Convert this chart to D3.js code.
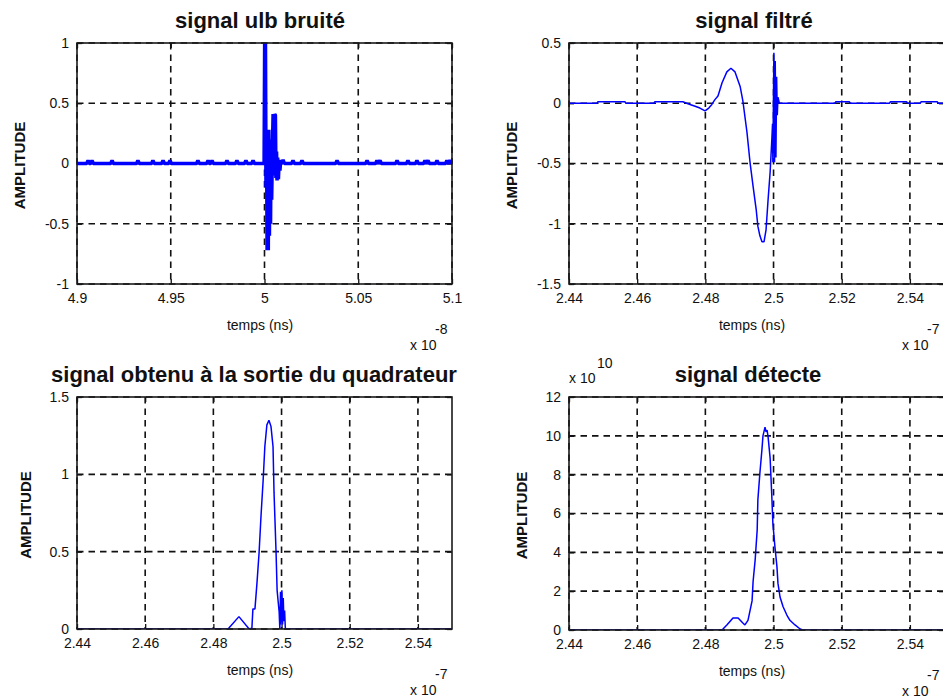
<!DOCTYPE html>
<html>
<head>
<meta charset="utf-8">
<script src="https://cdn.jsdelivr.net/npm/d3@7"></script>
<style>
  html, body { margin: 0; padding: 0; background: #fff; }
  svg { display: block; }
  text { font-family: "Liberation Sans", Arial, sans-serif; fill: #111; }
</style>
</head>
<body>
<svg id="fig" width="943" height="700"></svg>
<script>
// ---- Signals (time in units of the axis exponent, amplitude) ----

// Noisy UWB pulse, time x 1e-8 s
const noisySignal = [
  [4.9000, 0], [4.9052, 0], [4.9059, 0.025], [4.9066, 0], [4.9073, 0], [4.9080, 0.025], [4.9087, 0],
  [4.9180, 0], [4.9187, 0.025], [4.9194, 0],
  [4.9318, 0], [4.9325, 0.025], [4.9332, 0],
  [4.9398, 0], [4.9405, 0.025], [4.9412, 0],
  [4.9452, 0], [4.9459, 0.025], [4.9466, 0],
  [4.9489, 0], [4.9496, 0.025], [4.9503, 0],
  [4.9638, 0], [4.9645, 0.025], [4.9652, 0],
  [4.9692, 0], [4.9699, 0.025], [4.9706, 0], [4.9713, 0], [4.9720, 0.025], [4.9727, 0],
  [4.9793, 0], [4.9800, 0.025], [4.9807, 0],
  [4.9846, 0], [4.9853, 0.025], [4.9860, 0],
  [4.9894, 0], [4.9901, 0.025], [4.9908, 0],
  [4.9932, 0], [4.9939, 0.025], [4.9946, 0],
  [4.9998, 0], [5.0001, 1.0], [5.0005, 1.0], [5.0008, -0.2], [5.0011, 0.27], [5.0014, -0.72],
  [5.0017, 0.2], [5.0020, -0.72], [5.0023, 0.28], [5.0026, -0.6], [5.0029, 0.15], [5.0032, -0.5],
  [5.0035, 0.2], [5.0038, -0.3], [5.0042, 0.1], [5.0046, 0.41], [5.0050, -0.1], [5.0054, 0.41],
  [5.0058, 0.4], [5.0061, -0.12], [5.0064, 0.1], [5.0067, -0.14], [5.0070, 0.05], [5.0074, -0.13],
  [5.0078, 0.03], [5.0082, -0.06], [5.0086, 0.02], [5.0090, 0],
  [5.0092, 0], [5.0099, 0.03], [5.0106, 0],
  [5.0145, 0], [5.0152, 0.025], [5.0159, 0],
  [5.0193, 0], [5.0200, 0.025], [5.0207, 0],
  [5.0380, 0], [5.0387, 0.025], [5.0394, 0],
  [5.0540, 0], [5.0547, 0.025], [5.0554, 0],
  [5.0593, 0], [5.0600, 0.025], [5.0607, 0], [5.0616, 0.025], [5.0623, 0],
  [5.0700, 0], [5.0707, 0.025], [5.0714, 0],
  [5.0758, 0], [5.0765, 0.025], [5.0772, 0],
  [5.0806, 0], [5.0813, 0.025], [5.0820, 0],
  [5.0849, 0], [5.0856, 0.025], [5.0863, 0], [5.0872, 0.025], [5.0879, 0],
  [5.0913, 0], [5.0920, 0.025], [5.0927, 0],
  [5.0966, 0], [5.0973, 0.025], [5.0980, 0], [5.0989, 0.025], [5.1000, 0]
];

// Filtered signal, time x 1e-7 s
const filteredSignal = [
  [2.4400, 0], [2.4482, 0], [2.4485, 0.012], [2.4564, 0.012], [2.4567, 0],
  [2.4649, 0], [2.4652, 0.012], [2.4734, 0.012], [2.4745, 0], [2.4755, -0.01],
  [2.4770, -0.025], [2.4784, -0.04], [2.4799, -0.064], [2.4810, -0.04], [2.4819, -0.01],
  [2.4828, 0.03], [2.4837, 0.06], [2.4849, 0.17], [2.4863, 0.26], [2.4875, 0.29],
  [2.4887, 0.26], [2.4902, 0.14], [2.4910, 0.02], [2.4922, -0.24], [2.4931, -0.49],
  [2.4940, -0.69], [2.4949, -0.88], [2.4954, -1.02], [2.4960, -1.10], [2.4966, -1.15],
  [2.4972, -1.15], [2.4978, -1.05], [2.4984, -0.80], [2.4990, -0.57], [2.4995, -0.30],
  [2.4997, -0.17], [2.4998, -0.49], [2.4999, -0.17], [2.5001, 0.42], [2.5003, -0.49],
  [2.5005, 0.35], [2.5007, -0.45], [2.5009, 0.22], [2.5011, -0.10], [2.5013, 0.05],
  [2.5017, 0], [2.5180, 0], [2.5183, 0.012], [2.5222, 0.012], [2.5225, 0],
  [2.5340, 0], [2.5343, 0.012], [2.5390, 0.012], [2.5393, 0],
  [2.5430, 0], [2.5433, 0.012], [2.5480, 0.012], [2.5483, 0], [2.5500, 0]
];

// Squarer output, time x 1e-7 s
const squaredSignal = [
  [2.4400, 0], [2.4843, 0], [2.4875, 0.08], [2.4905, 0], [2.4913, 0.005],
  [2.4916, 0.13], [2.4922, 0.13], [2.4928, 0.30], [2.4934, 0.49], [2.4940, 0.74],
  [2.4946, 0.96], [2.4951, 1.18], [2.4957, 1.32], [2.4963, 1.35], [2.4969, 1.31],
  [2.4975, 1.18], [2.4978, 0.88], [2.4984, 0.49], [2.4987, 0.25], [2.4993, 0.11],
  [2.4995, 0], [2.4997, 0.24], [2.4998, 0.03], [2.5000, 0.18], [2.5001, 0.25],
  [2.5003, 0.03], [2.5005, 0.20], [2.5007, 0.05], [2.5009, 0.12], [2.5011, 0.01],
  [2.5013, 0], [2.5500, 0]
];

// Detected envelope, time x 1e-7 s, amplitude x 1e10
const detectedSignal = [
  [2.4400, 0], [2.4849, 0], [2.4863, 0.26], [2.4881, 0.62], [2.4896, 0.62],
  [2.4910, 0.36], [2.4916, 0.26], [2.4925, 0.5], [2.4931, 1.0], [2.4937, 1.5],
  [2.4940, 2.5], [2.4946, 3.6], [2.4952, 5.15], [2.4954, 6.7], [2.4960, 8.1],
  [2.4966, 9.3], [2.4969, 10.0], [2.4975, 10.45], [2.4978, 10.2], [2.4981, 10.3],
  [2.4984, 9.95], [2.4990, 8.85], [2.4995, 6.85], [2.4998, 5.5], [2.5004, 4.3],
  [2.5010, 3.25], [2.5013, 2.4], [2.5019, 1.7], [2.5028, 1.2], [2.5039, 0.77],
  [2.5048, 0.5], [2.5063, 0.26], [2.5078, 0.05], [2.5086, 0], [2.5500, 0]
];

// ---- Tick values ----
const noisyXTicks = [4.9, 4.95, 5, 5.05, 5.1];
const noisyYTicks = [-1, -0.5, 0, 0.5, 1];
const timeTicks = [2.44, 2.46, 2.48, 2.5, 2.52, 2.54];
const filteredYTicks = [-1.5, -1, -0.5, 0, 0.5];
const squaredYTicks = [0, 0.5, 1, 1.5];
const detectedYTicks = [0, 2, 4, 6, 8, 10, 12];

// ---- Titles and labels ----
const titles = ["signal ulb bruité", "signal filtré", "signal obtenu à la sortie du quadrateur", "signal détecte"];
const xLabel = "temps (ns)";
const yLabel = "AMPLITUDE";
const xExponents = ["-8", "-7", "-7", "-7"];

const panels = [
  { title: titles[0], data: noisySignal, xDomain: [4.9, 5.1], yDomain: [-1, 1],
    xTicks: noisyXTicks, yTicks: noisyYTicks, exp: xExponents[0],
    left: 77, top: 43, width: 375, height: 241, lw: 3.6, titleX: 260, yLabelDx: -58 },
  { title: titles[1], data: filteredSignal, xDomain: [2.44, 2.55], yDomain: [-1.5, 0.5],
    xTicks: timeTicks, yTicks: filteredYTicks, exp: xExponents[1],
    left: 569, top: 43, width: 375, height: 241, lw: 1.5, titleX: 754, yLabelDx: -58 },
  { title: titles[2], data: squaredSignal, xDomain: [2.44, 2.55], yDomain: [0, 1.5],
    xTicks: timeTicks, yTicks: squaredYTicks, exp: xExponents[2],
    left: 77, top: 397, width: 375, height: 232, lw: 1.5, titleX: 254, yLabelDx: -52 },
  { title: titles[3], data: detectedSignal, xDomain: [2.44, 2.55], yDomain: [0, 12],
    xTicks: timeTicks, yTicks: detectedYTicks, exp: xExponents[3], yExp: "10",
    left: 569, top: 397, width: 375, height: 233, lw: 1.5, titleX: 748, yLabelDx: -48 }
];

const svg = d3.select("#fig");
const defs = svg.append("defs");

panels.forEach((p, i) => {
  const x = d3.scaleLinear().domain(p.xDomain).range([0, p.width]);
  const y = d3.scaleLinear().domain(p.yDomain).range([p.height, 0]);
  const g = svg.append("g").attr("transform", `translate(${p.left},${p.top})`);

  // dashed grid
  const grid = g.append("g")
    .attr("stroke", "#111").attr("stroke-width", 1.6).attr("stroke-dasharray", "6.5,5");
  grid.selectAll("line.vx").data(p.xTicks).join("line")
    .attr("x1", d => x(d)).attr("x2", d => x(d)).attr("y1", 0).attr("y2", p.height);
  grid.selectAll("line.hy").data(p.yTicks).join("line")
    .attr("y1", d => y(d)).attr("y2", d => y(d)).attr("x1", 0).attr("x2", p.width);

  // axes with inward ticks
  const fmt = d => String(d);
  const bottom = g.append("g").attr("transform", `translate(0,${p.height})`)
    .call(d3.axisBottom(x).tickValues(p.xTicks).tickFormat(fmt).tickSizeInner(-5).tickSizeOuter(0).tickPadding(9));
  const left = g.append("g")
    .call(d3.axisLeft(y).tickValues(p.yTicks).tickFormat(fmt).tickSizeInner(-5).tickSizeOuter(0).tickPadding(8));
  g.append("g").call(d3.axisTop(x).tickValues(p.xTicks).tickFormat("").tickSizeInner(-5).tickSizeOuter(0));
  g.append("g").attr("transform", `translate(${p.width},0)`)
    .call(d3.axisRight(y).tickValues(p.yTicks).tickFormat("").tickSizeInner(-5).tickSizeOuter(0));
  g.selectAll(".domain").remove();
  g.selectAll(".tick line").attr("stroke", "#111").attr("stroke-width", 1.3);
  [bottom, left].forEach(a => a.selectAll("text")
    .attr("font-size", 14).attr("font-family", "\"Liberation Sans\", Arial, sans-serif").attr("fill", "#000"));

  // clipped signal trace
  const clipId = "clip" + i;
  defs.append("clipPath").attr("id", clipId)
    .append("rect").attr("width", p.width).attr("height", p.height);
  const line = d3.line().x(d => x(d[0])).y(d => y(d[1]));
  g.append("path").datum(p.data)
    .attr("clip-path", `url(#${clipId})`)
    .attr("fill", "none").attr("stroke", "#0000ff")
    .attr("stroke-width", p.lw).attr("stroke-linejoin", "bevel")
    .attr("d", line);

  // box
  g.append("rect").attr("width", p.width).attr("height", p.height)
    .attr("fill", "none").attr("stroke", "#1a1a1a").attr("stroke-width", 1.6);

  // title
  svg.append("text").attr("x", p.titleX).attr("y", p.top - 15)
    .attr("text-anchor", "middle").attr("font-size", 22).attr("font-weight", "bold")
    .text(p.title);

  // x label and exponent
  svg.append("text").attr("x", p.left + 183).attr("y", p.top + p.height + 46)
    .attr("text-anchor", "middle").attr("font-size", 14).text(xLabel);
  svg.append("text").attr("x", p.left + 333).attr("y", p.top + p.height + 66)
    .attr("font-size", 14).text("x 10");
  svg.append("text").attr("x", p.left + 358).attr("y", p.top + p.height + 50)
    .attr("font-size", 14).text(p.exp);

  // y label
  svg.append("text")
    .attr("transform", `translate(${p.left + p.yLabelDx},${p.top + p.height / 2 + 2}) rotate(-90)`)
    .attr("text-anchor", "middle").attr("dominant-baseline", "central")
    .attr("font-size", 15).attr("font-weight", "bold").text(yLabel);

  // y exponent
  if (p.yExp) {
    svg.append("text").attr("x", p.left).attr("y", p.top - 14)
      .attr("font-size", 14).text("x 10");
    svg.append("text").attr("x", p.left + 28).attr("y", p.top - 29)
      .attr("font-size", 14).text(p.yExp);
  }
});
</script>
</body>
</html>
